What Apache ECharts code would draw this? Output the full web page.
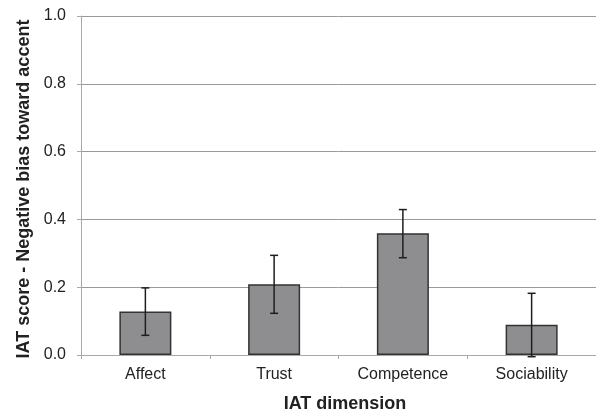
<!DOCTYPE html>
<html>
<head>
<meta charset="utf-8">
<script src="https://cdn.jsdelivr.net/npm/echarts@6/dist/echarts.min.js"></script>
<style>
  html, body { margin: 0; padding: 0; background: #fff; }
  #chart { width: 596px; height: 414px; }
</style>
</head>
<body>
<div id="chart"></div>
<script>
// IAT dimensions and mean scores with error-bar bounds
const categories = ['Affect', 'Trust', 'Competence', 'Sociability'];
const meanScores = [0.128, 0.209, 0.359, 0.089];
const errLow = [0.058, 0.123, 0.287, -0.005];
const errHigh = [0.198, 0.294, 0.429, 0.182];

const chart = echarts.init(document.getElementById('chart'));

const errorData = categories.map((c, i) => [i, errLow[i], errHigh[i]]);

chart.setOption({
  animation: false,
  grid: { left: 81, right: 0, top: 16, bottom: 59, containLabel: false, outerBoundsMode: 'none' },
  xAxis: {
    type: 'category',
    data: categories,
    name: 'IAT dimension',
    nameLocation: 'middle',
    nameGap: 40,
    nameTextStyle: { fontFamily: 'Liberation Sans', fontSize: 18, fontWeight: 'bold', color: '#222', padding: [0, 0, 0, 13] },
    axisLine: { lineStyle: { color: '#a8a8a8', width: 1 } },
    axisTick: { show: true, alignWithLabel: false, length: 4, lineStyle: { color: '#a8a8a8' } },
    axisLabel: { fontFamily: 'Liberation Sans', fontSize: 16, color: '#222', margin: 12 }
  },
  yAxis: {
    type: 'value',
    min: 0, max: 1, interval: 0.2,
    name: 'IAT score - Negative bias toward accent',
    nameLocation: 'middle',
    nameGap: 43,
    nameRotate: 90,
    nameTextStyle: { fontFamily: 'Liberation Sans', fontSize: 18, fontWeight: 'bold', color: '#222', padding: [0, 7, 0, 0] },
    axisLine: { show: true, lineStyle: { color: '#a8a8a8', width: 1 } },
    axisTick: { show: true, length: 4, lineStyle: { color: '#a8a8a8' } },
    axisLabel: { fontFamily: 'Liberation Sans', fontSize: 16, color: '#222', margin: 15,
      formatter: v => v.toFixed(1) },
    splitLine: { lineStyle: { color: '#9a9a9a', width: 1 } }
  },
  series: [
    {
      type: 'bar',
      data: meanScores,
      barWidth: 52,
      itemStyle: { color: '#8e8e91', borderColor: '#333', borderWidth: 1.5 },
      z: 2
    },
    {
      type: 'custom',
      data: errorData,
      z: 3,
      renderItem: function (params, api) {
        const x = api.coord([api.value(0), 0])[0];
        const lo = api.coord([api.value(0), api.value(1)])[1];
        const hi = api.coord([api.value(0), api.value(2)])[1];
        const cap = 4;
        const style = { stroke: '#1e1e1e', lineWidth: 1.5, fill: null };
        return {
          type: 'group',
          children: [
            { type: 'line', shape: { x1: x, y1: lo, x2: x, y2: hi }, style: style },
            { type: 'line', shape: { x1: x - cap, y1: hi, x2: x + cap, y2: hi }, style: style },
            { type: 'line', shape: { x1: x - cap, y1: lo, x2: x + cap, y2: lo }, style: style }
          ]
        };
      }
    }
  ]
});
</script>
</body>
</html>
